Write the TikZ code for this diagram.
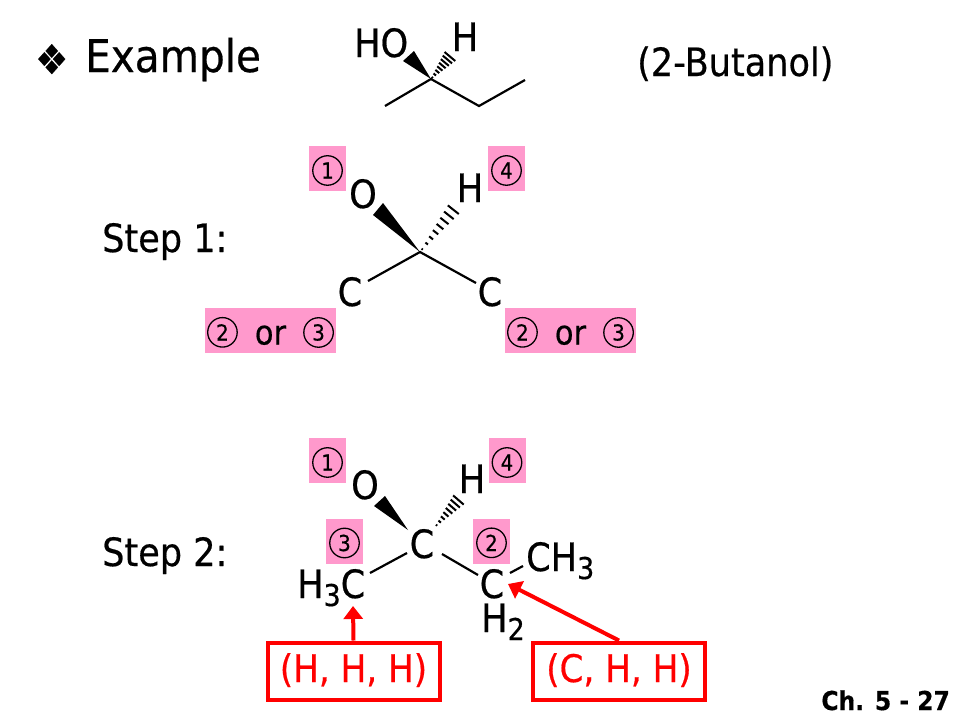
\documentclass[tikz,border=0pt]{standalone}
\usepackage{fontspec}
\setmainfont{DejaVu Sans}[FakeStretch=0.9,FakeBold=0.5]
\usetikzlibrary{calc,arrows.meta}
\definecolor{pinkbg}{HTML}{FF99CC}
\newcommand{\fs}[1]{\fontsize{#1}{#1}\selectfont}
\newcommand{\circnum}[1]{\tikz[baseline=(cn.base)]\node[circle,draw=black,line width=1.3pt,inner sep=0pt,minimum size=29.5pt,font=\fs{22}] (cn) {#1};}
\newcommand{\pinkrow}[1]{\raisebox{-10pt}[20pt][20pt]{#1}}
\newcommand{\ororder}[2]{\pinkrow{\circnum{#1}\hspace*{17pt}\raisebox{-4pt}{or}\hspace*{17pt}\circnum{#2}}}
\newcommand{\hashbond}[2]{%
  \foreach \t/\w in {0.06/0.8,0.18/1.6,0.30/2.5,0.42/3.4,0.54/4.3,0.66/5.2,0.78/6.1,0.90/7,1.0/7.8}
    \draw[line width=2pt] ($(#1)!\t!(#2)!\w pt!90:(#2)$) -- ($(#1)!\t!(#2)!\w pt!-90:(#2)$);}
\tikzset{
  lbl/.style={anchor=base,inner sep=0pt,font=\fs{39}},
  lblw/.style={anchor=base west,inner sep=0pt,font=\fs{39}},
  bond/.style={line width=2.2pt,line cap=butt},
  wedgefill/.style={fill=black,draw=none},
  pinkone/.style={fill=pinkbg,inner sep=0pt,minimum width=37pt,minimum height=45pt,anchor=center,font=\fs{34}},
  pinktwo/.style={fill=pinkbg,inner sep=0pt,minimum width=131pt,minimum height=45pt,anchor=center,font=\fs{34}},
  redbox/.style={draw=red,line width=4pt,text=red,inner sep=0pt,minimum width=172pt,minimum height=57pt,text height=30pt,text depth=8pt,font=\fs{38}},
  redarrow/.style={draw=red,line width=4pt,-{Triangle[length=13pt,width=19pt]}},
}
\begin{document}
\begin{tikzpicture}[x=1pt,y=-1pt]
\useasboundingbox (0,0) rectangle (960,720);
\fill[white] (0,0) rectangle (960,720);

% Heading
\node[lblw,font=\fs{41}] (bullet) at (35,74) {❖};
\node[lblw,font=\fs{45}] (example) at (85,72) {Example};
\node[lblw,font=\fs{39}] (name) at (637,76) {(2-Butanol)};
\node[lblw] (ho) at (354,57) {HO};
\node[lbl] (toph) at (465,51) {H};

% Top molecule
\coordinate (t0) at (431,79);
\coordinate (t1) at (385,106);
\coordinate (t2) at (479,106);
\coordinate (t3) at (525,80);
\coordinate (tw1) at (403,61);
\coordinate (tw2) at (414,51);
\coordinate (th) at (452,54);
\draw[bond] (t1) -- (t0) -- (t2) -- (t3);
\fill[wedgefill] (t0) -- (tw1) -- (tw2) -- cycle;
\hashbond{t0}{th}

% Step 1
\node[lblw] (s1) at (102,252) {Step 1:};
\node[pinkone] (s1p1) at (327.5,168.5) {\pinkrow{\circnum{1}}};
\node[pinkone] (s1p4) at (506.5,168.5) {\pinkrow{\circnum{4}}};
\node[pinktwo] (s1pl) at (270.5,330.5) {\ororder{2}{3}};
\node[pinktwo] (s1pr) at (570.5,330.5) {\ororder{2}{3}};
\node[lbl] (s1o) at (363,208) {O};
\node[lbl] (s1h) at (470,202) {H};
\node[lbl] (s1cl) at (350,306) {C};
\node[lbl] (s1cr) at (490,306) {C};
\coordinate (c1) at (420,252);
\coordinate (c1l) at (368,281);
\coordinate (c1r) at (476,283);
\coordinate (c1w1) at (373,215);
\coordinate (c1w2) at (383,203);
\coordinate (c1h) at (457,205);
\draw[bond] (c1l) -- (c1) -- (c1r);
\fill[wedgefill] (c1) -- (c1w1) -- (c1w2) -- cycle;
\hashbond{c1}{c1h}

% Step 2
\node[lblw] (s2) at (102,566) {Step 2:};
\node[pinkone] (s2p1) at (327.5,460.5) {\pinkrow{\circnum{1}}};
\node[pinkone] (s2p4) at (507,460.5) {\pinkrow{\circnum{4}}};
\node[pinkone] (s2p3) at (344.5,541) {\pinkrow{\circnum{3}}};
\node[pinkone] (s2p2) at (491.5,541) {\pinkrow{\circnum{2}}};
\node[lbl] (s2o) at (365,499) {O};
\node[lbl] (s2h) at (472,493) {H};
\node[lbl] (s2c) at (422,558) {C};
\node[lblw] (h3c) at (297,598) {H\raisebox{-8pt}{\fs{30}3}C};
\node[lbl] (s2c2) at (492,598) {C};
\node[lblw] (ch3) at (526,571) {CH\raisebox{-8pt}{\fs{30}3}};
\node[lblw] (h2) at (481,632) {H\raisebox{-8pt}{\fs{30}2}};
\coordinate (c2) at (408,530);
\coordinate (c2l1) at (407,553);
\coordinate (c2l2) at (370,573);
\coordinate (c2r1) at (442,554);
\coordinate (c2r2) at (478,575);
\coordinate (c2e1) at (510,573);
\coordinate (c2e2) at (523,566);
\coordinate (c2w1) at (374,506);
\coordinate (c2w2) at (385,496);
\coordinate (c2hs) at (435,527);
\coordinate (c2h) at (461,497);
\draw[bond] (c2l1) -- (c2l2);
\draw[bond] (c2r1) -- (c2r2);
\draw[bond] (c2e1) -- (c2e2);
\fill[wedgefill] (c2) -- (c2w1) -- (c2w2) -- cycle;
\hashbond{c2hs}{c2h}

% Red boxes
\node[redbox] (bl) at (353.5,671) {(H, H, H)};
\node[redbox] (br) at (619,671) {(C, H, H)};
\coordinate (al) at (353,606);
\coordinate (ar) at (508,584);
\draw[redarrow] (bl.north) -- (al);
\draw[redarrow] (br.north) -- (ar);

% Footer
\node[anchor=base east,inner sep=0pt,font=\fs{26}\bfseries] (foot) at (950,710) {Ch. 5 - 27};
\end{tikzpicture}
\end{document}
